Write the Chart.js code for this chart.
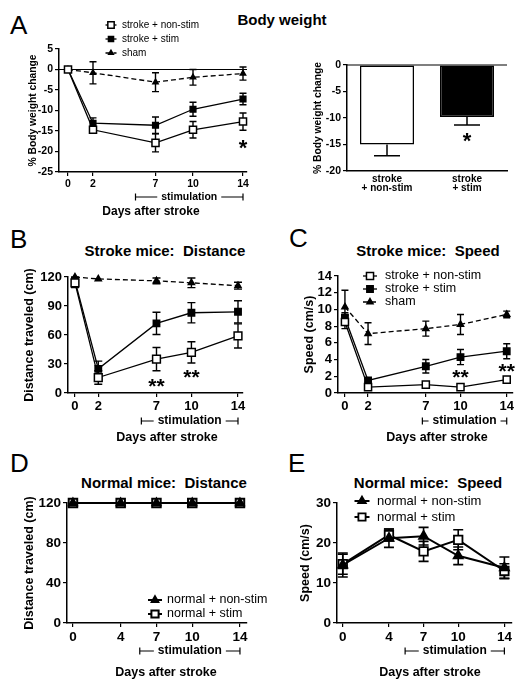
<!DOCTYPE html>
<html>
<head>
<meta charset="utf-8">
<script src="https://cdn.jsdelivr.net/npm/chart.js@4.4.1/dist/chart.umd.min.js"></script>
<style>
  body { margin: 0; background: #fff; width: 519px; height: 681px; position: relative; overflow: hidden;
         font-family: "Liberation Sans", Arial, sans-serif; color: #000; }
  canvas { position: absolute; }
  .lab { position: absolute; font-size: 26px; line-height: 1; }
  .ttl { position: absolute; width: 240px; font-size: 15px; font-weight: bold; line-height: 1; text-align: center; white-space: nowrap; }
</style>
</head>
<body>
<div class="lab" style="left:10px;top:12px">A</div>
<div class="lab" style="left:10px;top:226px">B</div>
<div class="lab" style="left:289px;top:225px">C</div>
<div class="lab" style="left:10px;top:450px">D</div>
<div class="lab" style="left:288px;top:450px">E</div>
<div class="ttl" style="left:162px;top:12px">Body weight</div>
<div class="ttl" style="left:45px;top:243px">Stroke mice:&nbsp; Distance</div>
<div class="ttl" style="left:308px;top:243px">Stroke mice:&nbsp; Speed</div>
<div class="ttl" style="left:44px;top:475px">Normal mice:&nbsp; Distance</div>
<div class="ttl" style="left:308px;top:475px">Normal mice:&nbsp; Speed</div>

<canvas id="weightLine"></canvas>
<canvas id="weightBar"></canvas>
<canvas id="strokeDist"></canvas>
<canvas id="strokeSpeed"></canvas>
<canvas id="normalDist"></canvas>
<canvas id="normalSpeed"></canvas>

<script>
// ---- data ----
const strokeDays = [0, 2, 7, 10, 14];
const normalDays = [0, 4, 7, 10, 14];
const strokeNames = ['stroke + non-stim', 'stroke + stim', 'sham'];
const normalNames = ['normal + non-stim', 'normal + stim'];
const xAxisTitle = 'Days after stroke';
const stimLabel = 'stimulation';

// A: body weight change (%)
const weightNonStim = [0, -14.7, -17.9, -14.7, -12.7];
const weightNonStimErr = [0, 0.6, 2.2, 2.0, 2.1];
const weightStim = [0, -13.1, -13.6, -9.7, -7.2];
const weightStimErr = [0, 1.3, 2.0, 1.7, 1.4];
const weightSham = [0, -0.8, -3.1, -1.9, -1.0];
const weightShamErr = [0, 2.7, 2.3, 1.9, 1.6];

const weightBarLabels = [['stroke', '+ non-stim'], ['stroke', '+ stim']];
const weightBarValues = [-15.0, -9.8];
const weightBarErr = [2.1, 1.5];

// B: stroke mice distance (cm)
const distNonStim = [114, 16, 35, 42, 59];
const distNonStimErr = [5, 7, 12, 11, 12.5];
const distStim = [116, 25, 72, 83, 84];
const distStimErr = [4, 8, 11.5, 10.5, 11.5];
const distSham = [120, 118, 116, 114, 111];
const distShamErr = [0, 0, 3, 5, 3.5];

// C: stroke mice speed (cm/s)
const speedNonStim = [8.5, 0.7, 1.0, 0.7, 1.6];
const speedNonStimErr = [0.8, 0.2, 0.2, 0.15, 0.3];
const speedStim = [9.0, 1.5, 3.2, 4.3, 5.0];
const speedStimErr = [0.6, 0.2, 0.8, 0.9, 0.9];
const speedSham = [10.3, 7.1, 7.7, 8.2, 9.4];
const speedShamErr = [2.0, 1.3, 0.9, 1.2, 0.4];

// D: normal mice distance (cm)
const normDistNonStim = [120, 120, 120, 120, 120];
const normDistStim = [120, 120, 120, 120, 120];

// E: normal mice speed (cm/s)
const normSpeedNonStim = [14.5, 21.2, 21.7, 16.8, 13.8];
const normSpeedNonStimErr = [3.0, 2.3, 2.2, 2.2, 2.7];
const normSpeedStim = [14.7, 22.0, 17.9, 20.8, 13.0];
const normSpeedStimErr = [2.5, 1.5, 2.5, 2.5, 1.8];

// ---- setup ----
const FONT = '"Liberation Sans", Arial, sans-serif';
Chart.defaults.font.family = FONT;
Chart.defaults.color = '#000';
Chart.defaults.animation = false;
Chart.defaults.responsive = false;
Chart.defaults.plugins.legend.display = false;
Chart.defaults.plugins.tooltip.enabled = false;

function drawMarker(ctx, style, r, x, y, fill, bw) {
  ctx.beginPath();
  if (style === 'rect') {
    const s = r * Math.SQRT1_2;
    ctx.rect(x - s, y - s, 2 * s, 2 * s);
  } else {
    let a = 0;
    for (let k = 0; k < 3; k++) {
      const px = x + Math.sin(a) * r, py = y - Math.cos(a) * r;
      if (k === 0) ctx.moveTo(px, py); else ctx.lineTo(px, py);
      a += 2 * Math.PI / 3;
    }
    ctx.closePath();
  }
  ctx.fillStyle = fill;
  ctx.fill();
  ctx.lineWidth = bw;
  ctx.strokeStyle = '#000';
  ctx.stroke();
}

// error bars, zero line, legend, asterisks, stimulation bracket, x title
const deco = {
  id: 'deco',
  beforeDatasetsDraw(chart, args, o) {
    const ctx = chart.ctx, ys = chart.scales.y, a = chart.chartArea;
    ctx.save();
    ctx.strokeStyle = '#000';
    if (o.zeroLine) {
      const y0 = ys.getPixelForValue(0);
      ctx.lineWidth = 1.2;
      ctx.beginPath(); ctx.moveTo(a.left, y0); ctx.lineTo(a.right, y0); ctx.stroke();
    }
    chart.data.datasets.forEach((ds, i) => {
      if (!ds.err) return;
      const meta = chart.getDatasetMeta(i);
      ctx.lineWidth = ds.errWidth || 1.4;
      meta.data.forEach((el, j) => {
        const e = ds.err[j];
        if (!e) return;
        const raw = ds.data[j];
        const v = typeof raw === 'object' ? raw.y : raw;
        const c = ds.cap;
        const hi = ys.getPixelForValue(ds.errDown ? v : v + e);
        const lo = ys.getPixelForValue(v - e);
        ctx.beginPath();
        ctx.moveTo(el.x, hi); ctx.lineTo(el.x, lo);
        if (!ds.errDown) { ctx.moveTo(el.x - c, hi); ctx.lineTo(el.x + c, hi); }
        ctx.moveTo(el.x - c, lo); ctx.lineTo(el.x + c, lo);
        ctx.stroke();
      });
    });
    ctx.restore();
  },
  afterDraw(chart, args, o) {
    const ctx = chart.ctx, xs = chart.scales.x, ys = chart.scales.y;
    const ox = o.ox || 0, oy = o.oy || 0;
    ctx.save();
    ctx.fillStyle = '#000';
    ctx.strokeStyle = '#000';
    (o.stars || []).forEach(s => {
      ctx.font = 'bold ' + s.size + 'px ' + FONT;
      ctx.textAlign = 'center';
      ctx.textBaseline = 'middle';
      ctx.fillText(s.text, xs.getPixelForValue(s.x), ys.getPixelForValue(s.y) + s.size * 0.25);
    });
    if (o.legend) {
      const L = o.legend;
      chart.data.datasets.forEach((ds, i) => {
        const cx = L.x - ox, cy = L.ys[i] - oy;
        ctx.strokeStyle = '#000';
        ctx.lineWidth = ds.borderWidth;
        ctx.setLineDash(ds.borderDash || []);
        ctx.beginPath(); ctx.moveTo(cx - L.len / 2, cy); ctx.lineTo(cx + L.len / 2, cy); ctx.stroke();
        ctx.setLineDash([]);
        drawMarker(ctx, ds.pointStyle, ds.pointRadius * L.scale, cx, cy, ds.pointBackgroundColor, ds.pointBorderWidth);
        ctx.fillStyle = '#000';
        ctx.font = L.size + 'px ' + FONT;
        ctx.textAlign = 'left';
        ctx.textBaseline = 'middle';
        ctx.fillText(ds.label, L.tx - ox, cy);
      });
    }
    if (o.stim) {
      const S = o.stim;
      const x1 = xs.getPixelForValue(S.from), x2 = xs.getPixelForValue(S.to), y = S.y - oy;
      ctx.font = 'bold ' + S.size + 'px ' + FONT;
      const w = ctx.measureText(stimLabel).width + 8;
      const cx = (x1 + x2) / 2;
      ctx.lineWidth = 1.2;
      ctx.beginPath();
      ctx.moveTo(x1, y - 3.5); ctx.lineTo(x1, y + 3.5);
      ctx.moveTo(x2, y - 3.5); ctx.lineTo(x2, y + 3.5);
      ctx.moveTo(x1, y); ctx.lineTo(cx - w / 2, y);
      ctx.moveTo(cx + w / 2, y); ctx.lineTo(x2, y);
      ctx.stroke();
      ctx.textAlign = 'center';
      ctx.textBaseline = 'middle';
      ctx.fillText(stimLabel, cx, y);
    }
    if (o.xTitle) {
      ctx.font = 'bold ' + o.xTitle.size + 'px ' + FONT;
      ctx.textAlign = 'center';
      ctx.textBaseline = 'middle';
      ctx.fillText(xAxisTitle, o.xTitle.x - ox, o.xTitle.y - oy);
    }
    ctx.restore();
  }
};
Chart.register(deco);

function place(id, box) {
  const c = document.getElementById(id);
  c.width = box[2]; c.height = box[3];
  c.style.left = box[0] + 'px'; c.style.top = box[1] + 'px';
  return c;
}

const grid = { drawOnChartArea: false, drawTicks: true, tickLength: 4, color: '#000', lineWidth: 1.2 };
const border = { color: '#000', width: 1.5 };

function series(label, days, vals, errs, style) {
  return Object.assign({
    label: label,
    data: days.map((d, i) => ({ x: d, y: vals[i] })),
    err: errs,
    borderColor: '#000',
    borderWidth: 1.3,
    pointBorderColor: '#000',
    pointBorderWidth: 1.5,
    pointBackgroundColor: '#000',
    pointStyle: 'rect',
    pointRadius: 4,
    cap: 3.5,
    clip: false,
    tension: 0
  }, style);
}

function lineChart(id, box, area, cfg) {
  const [bx, by, bw, bh] = box;
  const [l, t, r, b] = area;
  const lh = cfg.titleSize * 1.2;
  return new Chart(place(id, box), {
    type: 'line',
    data: { datasets: cfg.datasets },
    options: {
      layout: { padding: { left: 0, top: t - by, right: bx + bw - r, bottom: 0 } },
      scales: {
        x: {
          type: 'linear', min: cfg.xMin, max: cfg.xMax,
          afterBuildTicks: s => { s.ticks = cfg.days.map(v => ({ value: v })); },
          afterFit: s => { s.height = by + bh - b; },
          ticks: { font: { size: cfg.tickSize, weight: 'bold' }, padding: 2, maxRotation: 0, autoSkip: false },
          grid: grid, border: border
        },
        y: {
          min: cfg.yMin, max: cfg.yMax,
          afterFit: s => { s.width = l - bx; },
          ticks: { stepSize: cfg.yStep, font: { size: cfg.tickSize, weight: 'bold' }, padding: 2, autoSkip: false },
          title: { display: true, text: cfg.yTitle, font: { size: cfg.titleSize, weight: 'bold' },
                   padding: { top: cfg.titleX - bx - lh / 2, bottom: 0 } },
          grid: grid, border: border
        }
      },
      plugins: { deco: Object.assign({ ox: bx, oy: by }, cfg.deco) }
    }
  });
}

// A left: body weight over time
lineChart('weightLine', [20, 0, 240, 222], [59, 49, 247, 172], {
  days: strokeDays, xMin: -0.72, xMax: 14.32, yMin: -25, yMax: 5, yStep: 5,
  tickSize: 10.5, titleSize: 10.3, titleX: 33, yTitle: '% Body weight change',
  datasets: [
    series(strokeNames[0], strokeDays, weightNonStim, weightNonStimErr, { pointRadius: 5, pointBackgroundColor: '#fff' }),
    series(strokeNames[1], strokeDays, weightStim, weightStimErr, { pointRadius: 4 }),
    series(strokeNames[2], strokeDays, weightSham, weightShamErr, { pointStyle: 'triangle', pointRadius: 3, borderDash: [5, 3] })
  ],
  deco: {
    zeroLine: true,
    legend: { x: 111, tx: 122, ys: [25, 39, 53], len: 11, size: 10, scale: 0.9 },
    stars: [{ x: 14, y: -18, text: '*', size: 22 }],
    stim: { from: 5.4, to: 14, y: 197, size: 10.5 },
    xTitle: { x: 151, y: 212, size: 12 }
  }
});

// A right: body weight bars
new Chart(place('weightBar', [300, 40, 219, 165]), {
  type: 'bar',
  data: {
    labels: weightBarLabels,
    datasets: [{
      data: weightBarValues, err: weightBarErr, errDown: true, cap: 13, errWidth: 1.5,
      backgroundColor: ['#fff', '#000'], borderColor: '#000', borderWidth: 1.5,
      barPercentage: 0.675, categoryPercentage: 1, borderSkipped: false
    }]
  },
  options: {
    layout: { padding: { left: 0, top: 25, right: 12, bottom: 0 } },
    scales: {
      x: {
        afterFit: s => { s.height = 34; },
        ticks: { font: { size: 10, weight: 'bold', lineHeight: 0.9 }, padding: 4, maxRotation: 0 },
        grid: { display: true, drawOnChartArea: false, drawTicks: false }, border: border
      },
      y: {
        min: -20, max: 0,
        afterFit: s => { s.width = 47; },
        ticks: { stepSize: 5, font: { size: 10.5, weight: 'bold' }, padding: 2, autoSkip: false },
        title: { display: true, text: '% Body weight change', font: { size: 10.3, weight: 'bold' },
                 padding: { top: 318 - 300 - 6.2, bottom: 0 } },
        grid: grid, border: border
      }
    },
    plugins: { deco: { ox: 300, oy: 40, zeroLine: true, stars: [{ x: 1, y: -13.4, text: '*', size: 22 }] } }
  }
});

// B: stroke mice distance
lineChart('strokeDist', [15, 230, 245, 218], [68, 277, 243, 393], {
  days: strokeDays, xMin: -0.6, xMax: 14.43, yMin: 0, yMax: 120, yStep: 30,
  tickSize: 13, titleSize: 12.5, titleX: 30, yTitle: 'Distance traveled (cm)',
  datasets: [
    series(strokeNames[0], strokeDays, distNonStim, distNonStimErr, { pointRadius: 5.5, pointBackgroundColor: '#fff', cap: 4 }),
    series(strokeNames[1], strokeDays, distStim, distStimErr, { pointRadius: 4.5, cap: 4 }),
    series(strokeNames[2], strokeDays, distSham, distShamErr, { pointStyle: 'triangle', pointRadius: 3.5, borderDash: [5, 3], cap: 4 })
  ],
  deco: {
    stars: [{ x: 7, y: 11, text: '**', size: 21 }, { x: 10, y: 20.5, text: '**', size: 21 }],
    stim: { from: 5.7, to: 14, y: 421, size: 12 },
    xTitle: { x: 167, y: 438, size: 12.5 }
  }
});

// C: stroke mice speed
lineChart('strokeSpeed', [290, 230, 229, 218], [338, 276, 515, 393], {
  days: strokeDays, xMin: -0.6, xMax: 14.5, yMin: 0, yMax: 14, yStep: 2,
  tickSize: 13, titleSize: 12.5, titleX: 310, yTitle: 'Speed (cm/s)',
  datasets: [
    series(strokeNames[0], strokeDays, speedNonStim, speedNonStimErr, { pointRadius: 5, pointBackgroundColor: '#fff' }),
    series(strokeNames[1], strokeDays, speedStim, speedStimErr, { pointRadius: 4.5 }),
    series(strokeNames[2], strokeDays, speedSham, speedShamErr, { pointStyle: 'triangle', pointRadius: 3.5, borderDash: [5, 3] })
  ],
  deco: {
    legend: { x: 370, tx: 385, ys: [276, 289, 302], len: 14, size: 12.5, scale: 1 },
    stars: [{ x: 10, y: 2.4, text: '**', size: 21 }, { x: 14, y: 3.1, text: '**', size: 21 }],
    stim: { from: 6.7, to: 14, y: 421, size: 12 },
    xTitle: { x: 437, y: 438, size: 12.5 }
  }
});

// D: normal mice distance
lineChart('normalDist', [15, 460, 275, 221], [67, 503, 247, 623], {
  days: normalDays, xMin: -0.5, xMax: 14.59, yMin: 0, yMax: 120, yStep: 40,
  tickSize: 13.5, titleSize: 12.5, titleX: 30, yTitle: 'Distance traveled (cm)',
  datasets: [
    series(normalNames[0], normalDays, normDistNonStim, null, { pointStyle: 'triangle', pointRadius: 5, borderWidth: 2 }),
    series(normalNames[1], normalDays, normDistStim, null, { pointRadius: 6, pointBackgroundColor: '#fff', pointBorderWidth: 2, borderWidth: 2 })
  ],
  deco: {
    legend: { x: 155, tx: 167, ys: [600, 614], len: 14, size: 12.5, scale: 0.85 },
    stim: { from: 5.6, to: 14, y: 651, size: 12 },
    xTitle: { x: 166, y: 673, size: 12.5 }
  }
});

// E: normal mice speed
lineChart('normalSpeed', [295, 460, 224, 221], [337, 503, 517, 623], {
  days: normalDays, xMin: -0.5, xMax: 14.59, yMin: 0, yMax: 30, yStep: 10,
  tickSize: 13.5, titleSize: 12.5, titleX: 306, yTitle: 'Speed (cm/s)',
  datasets: [
    series(normalNames[0], normalDays, normSpeedNonStim, normSpeedNonStimErr, { pointStyle: 'triangle', pointRadius: 5.5, borderWidth: 2, cap: 5, errWidth: 1.6 }),
    series(normalNames[1], normalDays, normSpeedStim, normSpeedStimErr, { pointRadius: 6, pointBackgroundColor: '#fff', pointBorderWidth: 1.8, borderWidth: 2, cap: 5, errWidth: 1.6 })
  ],
  deco: {
    legend: { x: 362, tx: 377, ys: [501, 517], len: 15, size: 13, scale: 0.85 },
    stim: { from: 5.4, to: 14, y: 651, size: 12 },
    xTitle: { x: 430, y: 673, size: 12.5 }
  }
});
</script>
</body>
</html>
